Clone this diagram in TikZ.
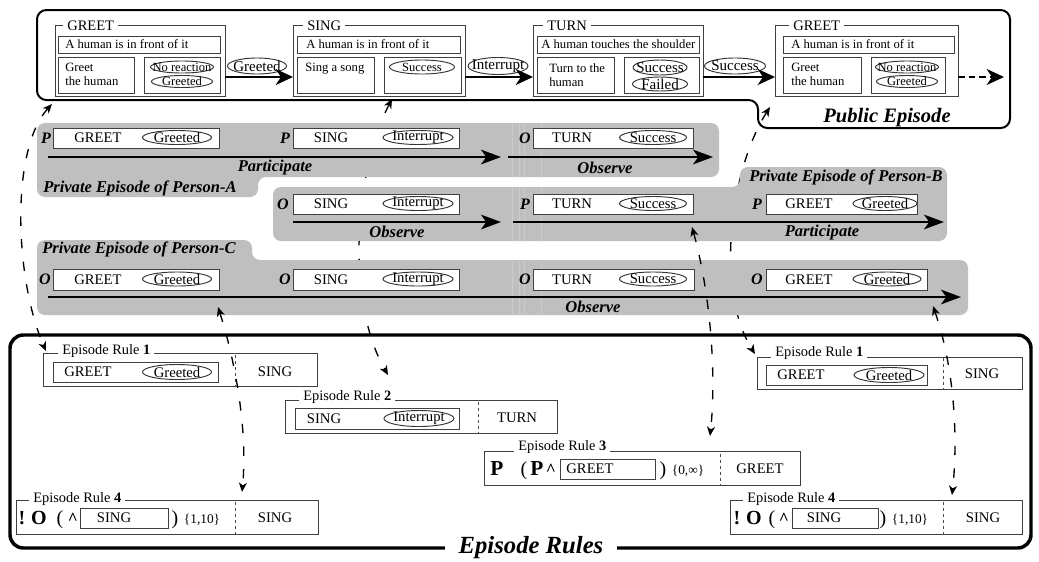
\documentclass[tikz,border=0pt]{standalone}
\usepackage{fontspec}
\setmainfont{Liberation Serif}
\usetikzlibrary{arrows.meta,calc,fit,shapes.geometric}
\pgfdeclarelayer{connl}
\pgfdeclarelayer{regl}
\pgfsetlayers{connl,regl,main}
\newcommand\pxu{0.75pt}
\newcommand\fs[2]{\fontsize{#1pt}{#2pt}\selectfont}
\newcommand\ftBox{\fs{11}{13}}
\newcommand\ftPub{\fs{9.5}{10.5}}
\newcommand\ftPubE{\fs{9.4}{11}}
\newcommand\ftMid{\fs{11.25}{13}}
\newcommand\ftTtl{\fs{10.9}{13}}
\newcommand\ftRule{\fs{10.8}{13}}
\newcommand\ftBI{\fs{12.4}{14}\bfseries\itshape}
\newcommand\ftPO{\fs{12}{13}\bfseries\itshape}
\newcommand\ftBig{\fs{15}{16}\bfseries}
\newcommand\ftPar{\fs{15}{16}}
\newcommand\ftRep{\fs{10}{12}}
\newcommand\bxn[6][]{\node[bx,fit={(#3,#4)(#5,#6)},#1] (#2) {};}
\newcommand\ovn[7]{\node[ov,minimum width=#4*\pxu,minimum height=#5*\pxu] (#1) at (#2,#3) {};\node[inner sep=0pt,font=#6] at (#1.center) {#7};}
\tikzset{
 bx/.style={draw=black!75, line width=0.7pt, inner sep=0pt, outer sep=0pt, fill=white},
 ov/.style={draw=black!80, line width=0.7pt, ellipse, inner sep=0pt, outer sep=0pt},
 tl/.style={fill=white, inner xsep=3pt, inner ysep=0pt, anchor=west},
 pv/.style={fill=black!25},
 stripe/.style={draw=black!20, line width=0.5pt},
 tline/.style={line width=1.5pt, -{Stealth[length=15pt,width=11pt,inset=4pt]}},
 parr/.style={line width=1.3pt, -{Stealth[length=13pt,width=12pt,inset=4pt]}},
 conn/.style={line width=1pt, dash pattern=on 7pt off 10pt, {Stealth[length=7pt,width=6pt,inset=2pt]}-{Stealth[length=7pt,width=6pt,inset=2pt]}},
 sep/.style={draw=black!70, line width=0.6pt, dash pattern=on 2.5pt off 2pt},
 lbl/.style={inner sep=0pt},
}
\begin{document}
\begin{tikzpicture}[x=0.75pt,y=-0.75pt]
\useasboundingbox (0,0) rectangle (1039,561);
\begin{pgfonlayer}{connl}
\fill[white] (0,0) rectangle (1039,561);
\end{pgfonlayer}

% ================= PUBLIC EPISODE =================
\draw[line width=1.5pt, rounded corners=7pt] (37,55) -- (37,10) -- (1010,10) -- (1010,128) -- (758,128) -- (758,100) -- (37,100) -- cycle;
\node[font=\fs{15.4}{17}\bfseries\itshape] (pubLbl) at (887,118) {Public Episode};

% GREET 1
\bxn{pg1}{55}{25}{225}{96}
\node[tl,font=\ftTtl] at (63,25.5) {GREET};
\bxn{pg1a}{58}{36}{220}{53}
\node[lbl,font=\ftPub,anchor=west] at (65,44.5) {A human is in front of it};
\bxn{pg1b}{58}{57}{134}{93}
\node[lbl,font=\ftPub,anchor=north west,align=left] at (65,63) {Greet\\the human};
\bxn{pg1c}{144}{57}{220}{93}
\ovn{pg1n}{182}{67}{63}{12}{\ftPubE}{No reaction}
\ovn{pg1g}{182}{81.5}{61}{12}{\ftPubE}{Greeted}
\ovn{m1}{257}{66}{59}{16}{\ftMid}{Greeted}

% SING
\bxn{ps}{293}{25}{465}{96}
\node[tl,font=\ftTtl] at (303,25.5) {SING};
\bxn{psa}{297}{36}{460}{53}
\node[lbl,font=\ftPub,anchor=west] at (306,44.5) {A human is in front of it};
\bxn{psb}{297}{57}{374}{93}
\node[lbl,font=\ftPub,anchor=north west,align=left] at (305,63) {Sing a song};
\bxn{psc}{384}{57}{461}{93}
\ovn{psS}{422}{67}{65}{14}{\ftPubE}{Success}
\ovn{m2}{498}{66}{60}{17}{\ftMid}{Interrupt}

% TURN
\bxn{pt}{533}{25}{703}{96}
\node[tl,font=\ftTtl] at (543,25.5) {TURN};
\bxn{pta}{537}{36}{699}{53}
\node[lbl,font=\ftPub,anchor=west] at (541,44.5) {A human touches the shoulder};
\bxn{ptb}{537}{57}{614}{93}
\node[lbl,font=\ftPub,anchor=north west,align=left] at (549,63) {Turn to the\\human};
\bxn{ptc}{624}{57}{699}{93}
\ovn{ptS}{660}{67.5}{54}{15}{\ftMid}{Success}
\ovn{ptF}{660}{84}{55}{14}{\ftMid}{Failed}
\ovn{m3}{735}{66}{61}{16}{\ftMid}{Success}

% GREET 2
\bxn{pg2}{775}{25}{958}{96}
\node[tl,font=\ftTtl] at (789,25.5) {GREET};
\bxn{pg2a}{783}{36}{954}{53}
\node[lbl,font=\ftPub,anchor=west] at (791,44.5) {A human is in front of it};
\bxn{pg2b}{783}{57}{861}{93}
\node[lbl,font=\ftPub,anchor=north west,align=left] at (791,63) {Greet\\the human};
\bxn{pg2c}{871}{57}{945}{93}
\ovn{pg2n}{907}{67}{63}{12}{\ftPubE}{No reaction}
\ovn{pg2g}{907}{81.5}{61}{12}{\ftPubE}{Greeted}

\draw[parr] ([yshift=14.25pt]pg1.south east) -- ([yshift=14.25pt]ps.south west);
\draw[parr] ([yshift=14.25pt]ps.south east) -- ([yshift=14.25pt]pt.south west);
\draw[parr] ([yshift=14.25pt]pt.south east) -- ([yshift=14.25pt]pg2.south west);
\coordinate (pubEnd) at (1004,77);
\draw[parr, dash pattern=on 5pt off 3pt] ([yshift=14.25pt]pg2.south east) -- (pubEnd);

% ================= PRIVATE EPISODES =================
\begin{pgfonlayer}{regl}
\fill[pv, rounded corners=6pt] (37,160) -- (37,123) -- (719,123) -- (719,177) -- (258,177) -- (258,197) -- (37,197) -- cycle;
\fill[pv, rounded corners=6pt] (273,215) -- (273,187) -- (740,187) -- (740,167) -- (947,167) -- (947,241) -- (273,241) -- cycle;
\fill[pv, rounded corners=6pt] (37,280) -- (37,240) -- (252,240) -- (252,260) -- (968,260) -- (968,315) -- (37,315) -- cycle;
\foreach \xx in {512,519,524,541}{
  \draw[stripe] (\xx,124) -- (\xx,177);
  \draw[stripe] (\xx,188) -- (\xx,241);
  \draw[stripe] (\xx,261) -- (\xx,314);
}
\end{pgfonlayer}

% Person-A
\node[font=\ftPO] at (46,138) {P};
\bxn{aG}{53}{128}{219}{148}
\node[font=\ftBox] at (98,138) {GREET};
\ovn{aGe}{177}{137.5}{69}{14}{\ftBox}{Greeted}
\node[font=\ftPO] at (285,138) {P};
\bxn{aS}{293}{128}{459}{148}
\node[font=\ftBox] at (331,138) {SING};
\ovn{aSe}{418}{137.5}{70}{14}{\ftBox}{Interrupt}
\node[font=\ftPO] at (525,138) {O};
\bxn{aT}{533}{128}{693}{148}
\node[font=\ftBox] at (572,138) {TURN};
\ovn{aTe}{653}{137.5}{67}{14}{\ftBox}{Success}
\coordinate (a1s) at (48,157); \coordinate (a1e) at (501,157);
\coordinate (a2s) at (508,157); \coordinate (a2e) at (713,157);
\draw[tline] (a1s) -- (a1e);
\draw[tline] (a2s) -- (a2e);
\node[font=\ftBI] at (275,168) {Participate};
\node[font=\ftBI] at (605,168) {Observe};
\node[font=\ftBI,anchor=west,inner sep=0pt] at (43,188) {Private Episode of Person-A};

% Person-B
\node[font=\ftBI,anchor=west,inner sep=0pt] at (749,177) {Private Episode of Person-B};
\node[font=\ftPO] at (283,204) {O};
\bxn{bS}{293}{194}{459}{214}
\node[font=\ftBox] at (331,204) {SING};
\ovn{bSe}{418}{203.5}{70}{14}{\ftBox}{Interrupt}
\node[font=\ftPO] at (525,204) {P};
\bxn{bT}{533}{194}{693}{214}
\node[font=\ftBox] at (572,204) {TURN};
\ovn{bTe}{653}{203.5}{67}{14}{\ftBox}{Success}
\node[font=\ftPO] at (757,204) {P};
\bxn{bG}{766}{194}{917}{214}
\node[font=\ftBox] at (809,204) {GREET};
\ovn{bGe}{885}{203.5}{64}{14}{\ftBox}{Greeted}
\coordinate (b1s) at (293,222); \coordinate (b1e) at (501,222);
\coordinate (b2s) at (513,222); \coordinate (b2e) at (944,222);
\draw[tline] (b1s) -- (b1e);
\draw[tline] (b2s) -- (b2e);
\node[font=\ftBI] at (397,232) {Observe};
\node[font=\ftBI] at (822,233) {Participate};

% Person-C
\node[font=\ftBI,anchor=west,inner sep=0pt] at (42,249) {Private Episode of Person-C};
\node[font=\ftPO] at (45,279) {O};
\bxn{cG}{53}{269}{219}{290}
\node[font=\ftBox] at (98,279.5) {GREET};
\ovn{cGe}{177}{279}{69}{14}{\ftBox}{Greeted}
\node[font=\ftPO] at (285,279) {O};
\bxn{cS}{293}{269}{459}{290}
\node[font=\ftBox] at (331,279.5) {SING};
\ovn{cSe}{418}{279}{70}{14}{\ftBox}{Interrupt}
\node[font=\ftPO] at (525,279) {O};
\bxn{cT}{533}{269}{694}{290}
\node[font=\ftBox] at (572,279.5) {TURN};
\ovn{cTe}{653}{279}{67}{14}{\ftBox}{Success}
\node[font=\ftPO] at (757,279) {O};
\bxn{cG2}{766}{269}{927}{290}
\node[font=\ftBox] at (809,279.5) {GREET};
\ovn{cG2e}{887}{279}{68}{14}{\ftBox}{Greeted}
\coordinate (c1s) at (48,297); \coordinate (c1e) at (961,297);
\draw[tline] (c1s) -- (c1e);
\node[font=\ftBI] at (593,307) {Observe};

% ================= EPISODE RULES =================
\draw[line width=2.6pt, rounded corners=10pt] (10,335) rectangle (1031,548);
\node[fill=white, inner xsep=10pt, inner ysep=2pt, font=\fs{18.5}{20}\bfseries\itshape] (rulesLbl) at (531,548) {Episode Rules};

% Rule 1 left
\bxn{r1L}{43}{353}{317}{386}
\node[tl,font=\ftRule] at (58,351) {Episode Rule \textbf{1}};
\bxn{r1Lg}{53}{362}{218}{382}
\node[font=\ftBox] at (88,372) {GREET};
\ovn{r1Le}{177}{372}{69}{15}{\ftBox}{Greeted}
\draw[sep] (235,355) -- (235,386);
\node[font=\ftBox] at (275,372) {SING};

% Rule 2
\bxn{r2}{285}{400}{557}{433}
\node[tl,font=\ftRule] at (299,397) {Episode Rule \textbf{2}};
\bxn{r2s}{295}{408}{459}{429}
\node[font=\ftBox] at (324,418.5) {SING};
\ovn{r2e}{419}{418.5}{70}{16}{\ftBox}{Interrupt}
\draw[sep] (478,402) -- (478,433);
\node[font=\ftBox] at (517,418) {TURN};

% Rule 3
\bxn{r3}{484}{451}{800}{485}
\node[tl,font=\ftRule] at (514,447) {Episode Rule \textbf{3}};
\node[anchor=base,font=\fs{16}{17}\bfseries,inner sep=0pt] at (497,475) {P};
\node[anchor=base,font=\ftPar,inner sep=0pt] at (524,475) {(};
\node[anchor=base,font=\fs{16}{17}\bfseries,inner sep=0pt] at (537,475) {P};
\node[anchor=base,font=\fs{13}{14}\bfseries,inner sep=0pt] at (551,475) {\textasciicircum};
\bxn{r3g}{560}{459}{655}{479}
\node[font=\ftBox] at (590,469) {GREET};
\node[anchor=base,font=\ftPar,inner sep=0pt] at (663,475) {)};
\node[anchor=base,font=\ftRep,inner sep=0pt] at (688,474) {\{0,∞\}};
\draw[sep] (720,454) -- (720,485);
\node[font=\ftBox] at (760,469) {GREET};

% Rule 4 left
\bxn{r4L}{16}{500}{318}{534}
\node[tl,font=\ftRule] at (29,499) {Episode Rule \textbf{4}};
\node[anchor=base,font=\ftBig,inner sep=0pt] at (22,524) {!};
\node[anchor=base,font=\ftBig,inner sep=0pt] at (39,524) {O};
\node[anchor=base,font=\ftPar,inner sep=0pt] at (60,524) {(};
\node[anchor=base,font=\fs{13}{14}\bfseries,inner sep=0pt] at (73,524) {\textasciicircum};
\bxn{r4Ls}{80}{508}{168}{528}
\node[font=\ftBox] at (114,518) {SING};
\node[anchor=base,font=\ftPar,inner sep=0pt] at (175,524) {)};
\node[anchor=base,font=\ftRep,inner sep=0pt] at (202,523) {\{1,10\}};
\draw[sep] (235,502) -- (235,534);
\node[font=\ftBox] at (275,518) {SING};

% Rule 1 right
\bxn{r1R}{757}{357}{1022}{389}
\node[tl,font=\ftRule] at (771,353) {Episode Rule \textbf{1}};
\bxn{r1Rg}{766}{365}{927}{385}
\node[font=\ftBox] at (801,375) {GREET};
\ovn{r1Re}{889}{375}{70}{15}{\ftBox}{Greeted}
\draw[sep] (943,358) -- (943,389);
\node[font=\ftBox] at (982,374) {SING};

% Rule 4 right
\bxn{r4R}{730}{500}{1022}{534}
\node[tl,font=\ftRule] at (743,499) {Episode Rule \textbf{4}};
\node[anchor=base,font=\ftBig,inner sep=0pt] at (737,524) {!};
\node[anchor=base,font=\ftBig,inner sep=0pt] at (754,524) {O};
\node[anchor=base,font=\ftPar,inner sep=0pt] at (772,524) {(};
\node[anchor=base,font=\fs{13}{14}\bfseries,inner sep=0pt] at (784,524) {\textasciicircum};
\bxn{r4Rs}{792}{508}{878}{528}
\node[font=\ftBox] at (824,518) {SING};
\node[anchor=base,font=\ftPar,inner sep=0pt] at (883,524) {)};
\node[anchor=base,font=\ftRep,inner sep=0pt] at (910,523) {\{1,10\}};
\draw[sep] (943,502) -- (943,534);
\node[font=\ftBox] at (983,518) {SING};

% ================= CONNECTORS =================
\begin{pgfonlayer}{connl}
\draw[conn] ($(pg1.south west)+(-3,8)$) .. controls (10,150) and (15,280) .. ($(r1L.north west)+(3,-2)$);
\draw[conn] ($(ps.south)+(13,3)$) .. controls (355,170) and (345,300) .. ($(r2.north west)+(103,-25)$);
\draw[conn] ($(pg2.south west)+(-5,11)$) .. controls (730,170) and (715,290) .. ($(r1R.north west)+(-2,-3)$);
\end{pgfonlayer}
\draw[conn] ($(cG.south east)+(-1,17)$) .. controls (235,360) and (248,430) .. ($(r4L.north west)+(226,-8)$);
\draw[conn] ($(bT.south east)+(-1,13)$) .. controls (712,300) and (716,380) .. ($(r3.north east)+(-90,-15)$);
\draw[conn] ($(cG2.south east)+(6,16)$) .. controls (955,370) and (958,440) .. ($(r4R.north east)+(-70,-5)$);
\end{tikzpicture}
\end{document}
